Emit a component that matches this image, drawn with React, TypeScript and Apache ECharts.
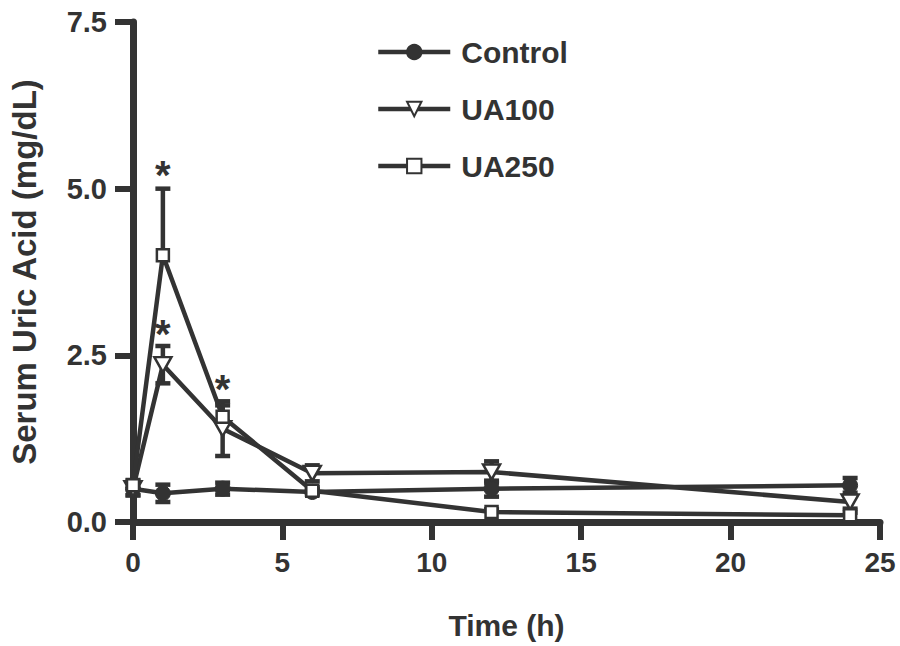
import React, { useEffect, useRef } from 'react';
import * as echarts from 'echarts';

const timePoints = [0, 1, 3, 6, 12, 24];
const seriesNames = ['Control', 'UA100', 'UA250'];
const controlMean = [0.5, 0.43, 0.5, 0.45, 0.5, 0.55];
const controlSem = [0.1, 0.13, 0.09, 0.04, 0.12, 0.11];
const ua100Mean = [0.5, 2.36, 1.4, 0.73, 0.75, 0.3];
const ua100Sem = [0.1, 0.28, 0.41, 0.12, 0.16, 0.1];
const ua250Mean = [0.55, 4.0, 1.58, 0.47, 0.15, 0.1];
const ua250Sem = [0.08, 1.0, 0.17, 0.05, 0.04, 0.04];
const sigX = [1, 1, 3];
const sigY = [5.2, 2.82, 2.0];
const xMin = 0, xMax = 25, xStep = 5;
const yMin = 0, yMax = 7.5, yStep = 2.5;

const COLOR = '#333333';
const FONT = '"Liberation Sans", Arial, Helvetica, sans-serif';

function errorSeries(name: string, mean: number[], sem: number[], upOnly: boolean) {
  const data = timePoints.map((t, i) => [t, upOnly ? mean[i] : mean[i] - sem[i], mean[i] + sem[i], upOnly ? 0 : 1]);
  return {
    type: 'custom',
    name: name + ' error',
    data,
    z: 1,
    silent: true,
    encode: { x: 0, y: [1, 2] },
    renderItem: (_params: any, api: any) => {
      const x = api.value(0);
      const lo = api.value(1);
      const hi = api.value(2);
      const both = api.value(3);
      const pLo = api.coord([x, lo]);
      const pHi = api.coord([x, hi]);
      const hw = 7.5;
      const style = { stroke: COLOR, lineWidth: 4.5 };
      const children: any[] = [
        { type: 'line', shape: { x1: pLo[0], y1: pLo[1], x2: pHi[0], y2: pHi[1] }, style },
        { type: 'line', shape: { x1: pHi[0] - hw, y1: pHi[1], x2: pHi[0] + hw, y2: pHi[1] }, style },
      ];
      if (both) {
        children.push({ type: 'line', shape: { x1: pLo[0] - hw, y1: pLo[1], x2: pLo[0] + hw, y2: pLo[1] }, style });
      }
      return { type: 'group', children };
    },
  };
}

export default function App() {
  const ref = useRef<HTMLDivElement>(null);
  useEffect(() => {
    document.body.style.margin = '0';
    const chart = echarts.init(ref.current!, null, { renderer: 'svg' });
    const mk = (arr: number[]) => timePoints.map((t, i) => [t, arr[i]]);
    const option: any = {
      animation: false,
      backgroundColor: '#ffffff',
      textStyle: { fontFamily: FONT },
      grid: { left: 130, right: 20, top: 22, bottom: 124 },
      legend: {
        data: seriesNames,
        orient: 'vertical',
        left: 371,
        top: 32,
        itemWidth: 72,
        itemHeight: 18,
        itemGap: 27,
        lineStyle: { width: 4.5, color: COLOR },
        textStyle: { fontSize: 30, fontWeight: 'bold', color: COLOR, fontFamily: FONT, lineHeight: 30, padding: [0, 0, 0, 6] },
        inactiveColor: COLOR,
        selectedMode: false,
      },
      xAxis: {
        type: 'value',
        min: xMin,
        max: xMax,
        interval: xStep,
        name: 'Time (h)',
        nameLocation: 'middle',
        nameGap: 88,
        nameTextStyle: { fontSize: 30, fontWeight: 'bold', color: COLOR, fontFamily: FONT },
        axisLine: { show: true, onZero: false, lineStyle: { color: COLOR, width: 7 } },
        axisTick: { show: true, inside: false, length: 18, lineStyle: { color: COLOR, width: 6 } },
        axisLabel: { margin: 26, fontSize: 28, fontWeight: 'bold', color: COLOR, fontFamily: FONT },
        splitLine: { show: false },
      },
      yAxis: {
        type: 'value',
        min: yMin,
        max: yMax,
        interval: yStep,
        name: 'Serum Uric Acid (mg/dL)',
        nameLocation: 'middle',
        nameGap: 92,
        nameTextStyle: { fontSize: 33, fontWeight: 'bold', color: COLOR, fontFamily: FONT },
        axisLine: { show: true, onZero: false, lineStyle: { color: COLOR, width: 7 } },
        axisTick: { show: true, inside: false, length: 18, lineStyle: { color: COLOR, width: 6 } },
        axisLabel: {
          margin: 26,
          fontSize: 29,
          fontWeight: 'bold',
          color: COLOR,
          fontFamily: FONT,
          formatter: (v: number) => v.toFixed(1),
        },
        splitLine: { show: false },
      },
      series: [
        errorSeries('Control', controlMean, controlSem, false),
        errorSeries('UA100', ua100Mean, ua100Sem, false),
        errorSeries('UA250', ua250Mean, ua250Sem, true),
        {
          type: 'line',
          name: 'Control',
          data: mk(controlMean),
          z: 3,
          symbol: 'circle',
          symbolSize: 15,
          showAllSymbol: true,
          lineStyle: { color: COLOR, width: 4.5 },
          itemStyle: { color: COLOR, borderColor: COLOR, borderWidth: 1 },
        },
        {
          type: 'line',
          name: 'UA100',
          data: mk(ua100Mean),
          z: 3,
          symbol: 'triangle',
          symbolRotate: 180,
          symbolSize: [17, 15],
          showAllSymbol: true,
          lineStyle: { color: COLOR, width: 4.5 },
          itemStyle: { color: '#ffffff', borderColor: COLOR, borderWidth: 2.5 },
        },
        {
          type: 'line',
          name: 'UA250',
          data: mk(ua250Mean),
          z: 3,
          symbol: 'rect',
          symbolSize: 12,
          showAllSymbol: true,
          lineStyle: { color: COLOR, width: 4.5 },
          itemStyle: { color: '#ffffff', borderColor: COLOR, borderWidth: 2.5 },
        },
        {
          type: 'custom',
          name: 'significance',
          data: sigX.map((x, i) => [x, sigY[i]]),
          z: 4,
          silent: true,
          encode: { x: 0, y: 1 },
          renderItem: (_params: any, api: any) => {
            const p = api.coord([api.value(0), api.value(1)]);
            return {
              type: 'text',
              x: p[0],
              y: p[1],
              style: {
                text: '*',
                fill: COLOR,
                fontSize: 40,
                fontWeight: 'bold',
                fontFamily: FONT,
                align: 'center',
                verticalAlign: 'middle',
              },
            };
          },
        },
      ],
    };
    chart.setOption(option);
    return () => chart.dispose();
  }, []);
  return <div ref={ref} style={{ width: 900, height: 646, position: 'absolute', left: 0, top: 0 }} />;
}
